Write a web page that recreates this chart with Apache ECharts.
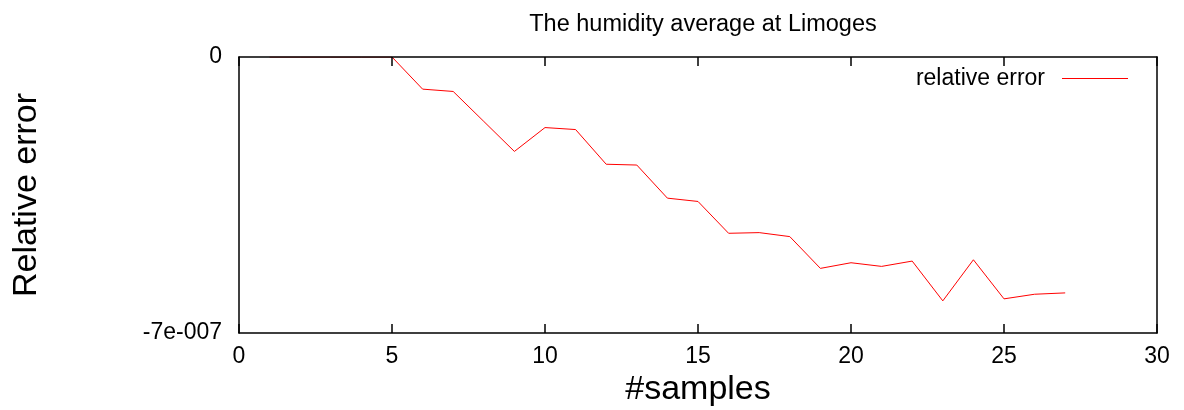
<!DOCTYPE html>
<html>
<head>
<meta charset="utf-8">
<script src="https://cdn.jsdelivr.net/npm/echarts@6/dist/echarts.min.js"></script>
<style>
html,body{margin:0;padding:0;background:#fff;}
#chart{width:1184px;height:410px;}
</style>
</head>
<body>
<div id="chart"></div>
<script>
var samples = [1,2,3,4,5,6,7,8,9,10,11,12,13,14,15,16,17,18,19,20,21,22,23,24,25,26,27];
var relErr = [0,0,0,0,0,-0.815e-7,-0.874e-7,-1.634e-7,-2.395e-7,-1.790e-7,-1.840e-7,-2.72e-7,-2.74e-7,-3.58e-7,-3.664e-7,-4.471e-7,-4.454e-7,-4.555e-7,-5.361e-7,-5.218e-7,-5.311e-7,-5.176e-7,-6.185e-7,-5.143e-7,-6.134e-7,-6.017e-7,-5.983e-7];
var yTickValues = [-7e-7, 0];
var yTickLabels = ['-7e-007', '0'];
var seriesName = 'relative error';

var FONT = 'Liberation Sans, Arial, sans-serif';
var chart = echarts.init(document.getElementById('chart'), null, {renderer:'canvas'});
var pts = samples.map(function(x,i){return [x, relErr[i]];});
var lineStyle = {color:'#000', width:1.5};
function yFmt(v){var i=yTickValues.findIndex(function(t){return Math.abs(t-v)<1e-12;}); return i>=0?yTickLabels[i]:'';}
chart.setOption({
  animation:false,
  backgroundColor:'#fff',
  title:{text:'The humidity average at Limoges', left:698, top:8, textAlign:'center',
    textStyle:{fontFamily:FONT, fontSize:23.5, fontWeight:'normal', color:'#000'}},
  legend:{data:[{name:seriesName, icon:'rect'}], right:56, top:67, padding:0, align:'right', itemWidth:66, itemHeight:1, itemGap:10,
    textStyle:{fontFamily:FONT, fontSize:23, color:'#000', padding:[0,12,0,0]}},
  grid:{left:239, right:27, top:57, bottom:77, show:false, containLabel:false, outerBoundsMode:'none'},
  xAxis:[{type:'value', min:0, max:30, interval:5, position:'bottom', z:10,
    name:'#samples', nameLocation:'middle', nameGap:40,
    nameTextStyle:{fontFamily:FONT, fontSize:34, color:'#000'},
    axisLine:{show:true, onZero:false, lineStyle:lineStyle},
    axisTick:{show:true, inside:true, length:9, lineStyle:lineStyle},
    axisLabel:{fontFamily:FONT, fontSize:23, color:'#000', margin:12},
    splitLine:{show:false}},
   {type:'value', min:0, max:30, interval:5, position:'top', z:10,
    axisLine:{show:true, onZero:false, lineStyle:lineStyle},
    axisTick:{show:true, inside:true, length:9, lineStyle:lineStyle},
    axisLabel:{show:false}, splitLine:{show:false}}],
  yAxis:[{type:'value', min:-7e-7, max:0, interval:7e-7, position:'left', z:10,
    name:'Relative error', nameLocation:'middle', nameGap:195, nameRotate:90,
    nameTextStyle:{fontFamily:FONT, fontSize:34, color:'#000'},
    axisLine:{show:true, onZero:false, lineStyle:lineStyle},
    axisTick:{show:false},
    axisLabel:{fontFamily:FONT, fontSize:23, color:'#000', margin:17, formatter:yFmt},
    splitLine:{show:false}},
   {type:'value', min:-7e-7, max:0, interval:7e-7, position:'right', z:10,
    axisLine:{show:true, onZero:false, lineStyle:lineStyle},
    axisTick:{show:false}, axisLabel:{show:false}, splitLine:{show:false}}],
  series:[{name:seriesName, type:'line', data:pts, xAxisIndex:0, yAxisIndex:0, showSymbol:false, symbol:'none',
    lineStyle:{color:'#ff0000', width:1}, itemStyle:{color:'#ff0000'}, z:1}]
});
</script>
</body>
</html>
